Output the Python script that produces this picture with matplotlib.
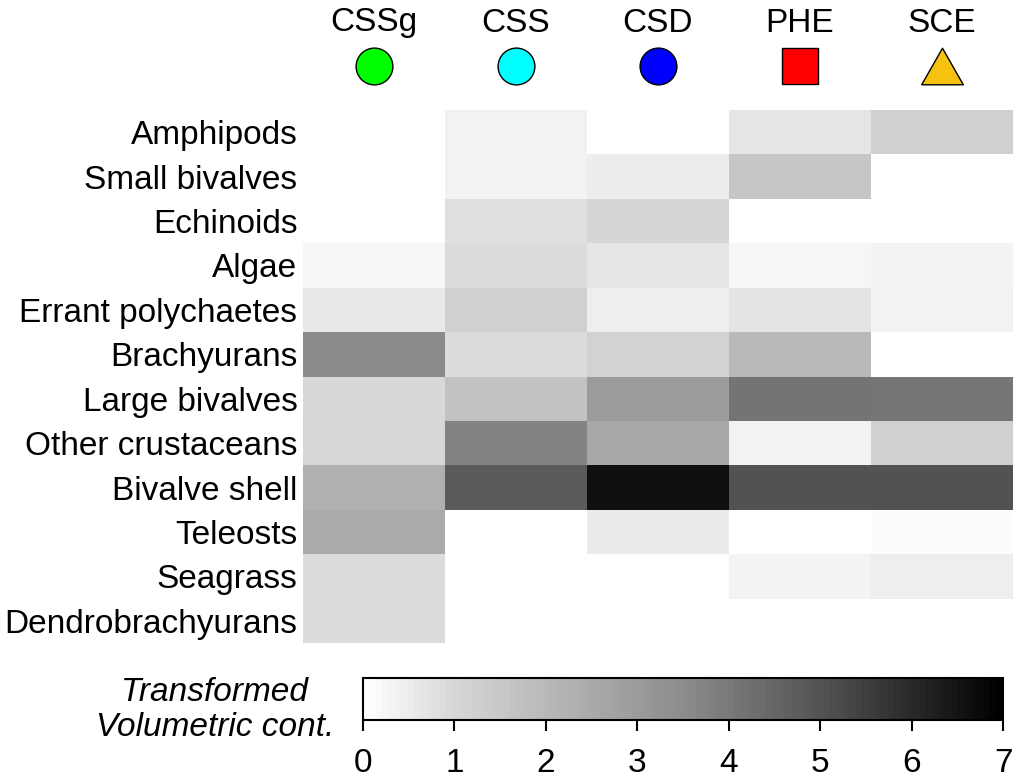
import numpy as np
import matplotlib
matplotlib.use("Agg")
import matplotlib.pyplot as plt
from matplotlib.colors import LinearSegmentedColormap, Normalize
from matplotlib.cm import ScalarMappable
from matplotlib.transforms import blended_transform_factory

plt.rcParams['font.family'] = ['Liberation Sans', 'DejaVu Sans']

prey = ["Amphipods", "Small bivalves", "Echinoids", "Algae", "Errant polychaetes",
        "Brachyurans", "Large bivalves", "Other crustaceans", "Bivalve shell",
        "Teleosts", "Seagrass", "Dendrobrachyurans"]
groups = ["CSSg", "CSS", "CSD", "PHE", "SCE"]
group_colors = ["#00FF00", "#00FFFF", "#0000FF", "#FF0000", "#F5C211"]
group_markers = ["o", "o", "o", "s", "tri"]

nan = np.nan
cssg = [nan, nan, nan, 0.20, 0.54, 3.53, 0.95, 0.95, 2.28, 2.49, 0.85, 0.85]
css  = [0.32, 0.32, 0.76, 0.85, 1.20, 0.85, 1.68, 3.74, 4.82, nan, nan, nan]
csd  = [nan, 0.44, 1.00, 0.61, 0.41, 1.14, 2.96, 2.55, 6.65, 0.49, nan, nan]
phe  = [0.63, 1.54, nan, 0.22, 0.66, 1.98, 4.14, 0.32, 5.04, nan, 0.29, nan]
sce  = [1.20, nan, nan, 0.29, 0.32, nan, 4.08, 1.20, 5.04, 0.07, 0.41, nan]

cbar_ticks = [0, 1, 2, 3, 4, 5, 6, 7]
vmin, vmax = 0, 7
# grey ramp of the colour key, read at a few points (value, grey level 0-255)
ramp_values = [0, 1, 3.5, 5.3, 7]
ramp_greys = [255, 214, 140, 72, 0]

W, H = 1021, 781
fig = plt.figure(figsize=(W / 100, H / 100), dpi=100)

def fx(px):
    return px / W

def fy(py):
    return 1 - py / H

anchors = [((v - vmin) / (vmax - vmin), (g / 255,) * 3) for v, g in zip(ramp_values, ramp_greys)]
cmap = LinearSegmentedColormap.from_list("wb", anchors, N=100)
cmap.set_bad("white")
cmap_fine = LinearSegmentedColormap.from_list("wb2", anchors, N=1024)
cmap_fine.set_bad("white")
norm = Normalize(vmin=vmin, vmax=vmax)

# main heatmap axes
ax = fig.add_axes([fx(303), fy(643), fx(1013) - fx(303), fy(110) - fy(643)])
data = np.array([cssg, css, csd, phe, sce]).T
masked = np.ma.masked_invalid(data)
ax.pcolormesh(np.arange(len(groups) + 1), np.arange(len(prey) + 1), masked,
              cmap=cmap_fine, norm=norm, shading="flat")
ax.set_xlim(0, len(groups))
ax.set_ylim(len(prey), 0)
ax.set_yticks(np.arange(len(prey)) + 0.5)
ax.set_yticklabels(prey, fontsize=24)
ax.tick_params(axis="y", length=0, pad=4)
ax.set_xticks([])
for s in ax.spines.values():
    s.set_visible(False)

# column headers and markers
tr = blended_transform_factory(ax.transData, fig.transFigure)
tri_verts = [(-0.57, -0.5), (0.57, -0.5), (0.0, 0.5), (-0.57, -0.5)]
for i, (g, c, m) in enumerate(zip(groups, group_colors, group_markers)):
    xc = i + 0.5
    ax.text(xc, fy(23), g, transform=tr, ha="center", va="center", fontsize=24)
    if m == "tri":
        ax.plot([xc], [fy(66)], transform=tr, marker=tri_verts, ms=30,
                mfc=c, mec="black", mew=1.0, ls="none", clip_on=False)
    elif m == "s":
        ax.plot([xc], [fy(66)], transform=tr, marker="s", ms=26.5,
                mfc=c, mec="black", mew=1.0, ls="none", clip_on=False)
    else:
        ax.plot([xc], [fy(66)], transform=tr, marker="o", ms=26.5,
                mfc=c, mec="black", mew=1.0, ls="none", clip_on=False)

# colorbar
cax = fig.add_axes([fx(363), fy(720), fx(1003) - fx(363), fy(678) - fy(720)])
sm = ScalarMappable(norm=norm, cmap=cmap)
cb = fig.colorbar(sm, cax=cax, orientation="horizontal", ticks=cbar_ticks)
cb.outline.set_linewidth(1.5)
cb.outline.set_edgecolor("black")
cax.tick_params(axis="x", length=8, width=1.5, labelsize=24, pad=12, direction="out")
cax.set_xticklabels([str(t) for t in cbar_ticks])

fig.text(fx(215), fy(710), "Transformed\nVolumetric cont.", ha="center", va="center",
         fontsize=24, style="italic", linespacing=1.2)

fig.savefig("out.png", dpi=100)
